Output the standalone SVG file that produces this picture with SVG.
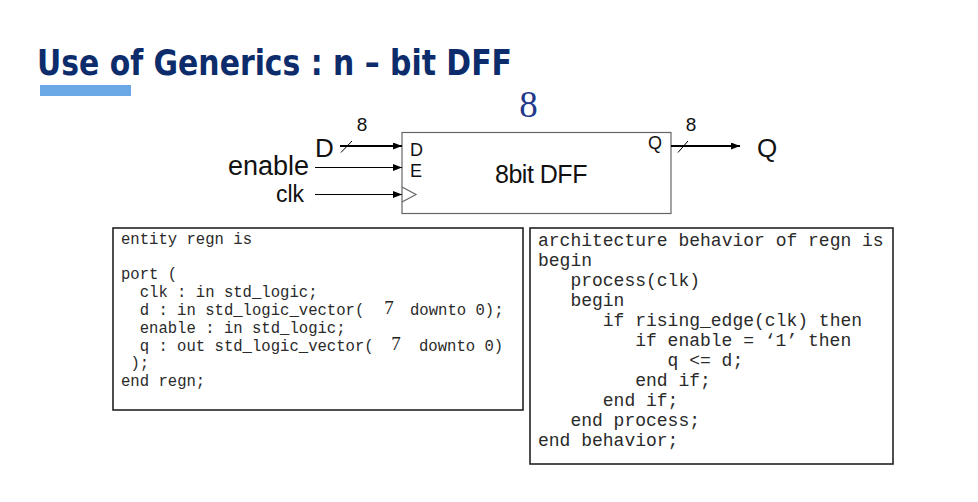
<svg xmlns="http://www.w3.org/2000/svg" width="978" height="502" viewBox="0 0 978 502">
<style>
.t{font-family:"Liberation Sans",Arial,sans-serif;fill:#111}
.m{font-family:"Liberation Mono","Courier New",monospace;fill:#2a2a2a}
.s{font-family:"Liberation Serif","Times New Roman",serif;fill:#222}
.box{fill:#fff;stroke:#222;stroke-width:1.6}
.w{stroke:#000;fill:none}
</style>
<defs>
<marker id="ah" markerUnits="userSpaceOnUse" markerWidth="9" markerHeight="7" refX="9" refY="3.5" orient="auto">
<path d="M0,0 L9,3.5 L0,7 z" fill="#000"/>
</marker>
</defs>
<rect width="978" height="502" fill="#fff"/>
<g id="title">
<text x="37" y="75" textLength="475" lengthAdjust="spacingAndGlyphs" style="font-family:'DejaVu Sans Condensed','DejaVu Sans',Verdana,sans-serif;font-weight:bold;font-size:36px;fill:#0c2c6b">Use of Generics : n – bit DFF</text>
<rect x="40" y="85" width="91" height="11" fill="#6aa9e6"/>
</g>
<g id="generic-label">
<text x="528.5" y="117" text-anchor="middle" style="font-family:'Liberation Serif','Times New Roman',serif;font-size:37px;fill:#1f3a8a">8</text>
</g>
<g id="dff">
<rect x="402" y="132.5" width="269" height="81" fill="#fff" stroke="#666" stroke-width="1.2"/>
<text class="t" x="541" y="183" text-anchor="middle" font-size="25" letter-spacing="-0.5">8bit DFF</text>
<text class="t" x="410" y="156" font-size="18">D</text>
<text class="t" x="410" y="176.5" font-size="18">E</text>
<text class="t" x="662" y="149" font-size="18" text-anchor="end">Q</text>
<path d="M402,187 L416,194.5 L402,202" fill="none" stroke="#666" stroke-width="1.2"/>
</g>
<g id="inputs">
<text class="t" x="315" y="157" font-size="26">D</text>
<text class="t" x="309" y="175" font-size="27" text-anchor="end">enable</text>
<text class="t" x="304" y="202" font-size="23" text-anchor="end">clk</text>
<text class="t" x="362" y="131" font-size="19" text-anchor="middle">8</text>
</g>
<g id="outputs">
<text class="t" x="757" y="157" font-size="26">Q</text>
<text class="t" x="691" y="131" font-size="19" text-anchor="middle">8</text>
</g>
<g id="connectors">
<line class="w" x1="340" y1="146" x2="402" y2="146" stroke-width="2.2" marker-end="url(#ah)"/>
<line class="w" x1="341" y1="152.5" x2="352" y2="141" stroke="#444" stroke-width="1"/>
<line class="w" x1="315" y1="167.5" x2="402" y2="167.5" stroke="#555" stroke-width="1.1" marker-end="url(#ah)"/>
<line class="w" x1="315" y1="194.5" x2="402" y2="194.5" stroke="#555" stroke-width="1.1" marker-end="url(#ah)"/>
<line class="w" x1="671" y1="146" x2="740" y2="146" stroke-width="2.2" marker-end="url(#ah)"/>
<line class="w" x1="678" y1="152.5" x2="688" y2="141" stroke="#444" stroke-width="1"/>
</g>
<g id="entity-code">
<rect class="box" x="113" y="228" width="410" height="182"/>
<g class="m" font-size="15.6">
<text x="121" y="244">entity regn is</text>
<text x="121" y="279">port (</text>
<text x="139.7" y="297">clk : in std_logic;</text>
<text x="139.7" y="315">d : in std_logic_vector(</text>
<text x="410" y="315">downto 0);</text>
<text x="139.7" y="333">enable : in std_logic;</text>
<text x="139.7" y="351">q : out std_logic_vector(</text>
<text x="419" y="351">downto 0)</text>
<text x="130.4" y="368">);</text>
<text x="121" y="386">end regn;</text>
</g>
<text class="s" x="389" y="314" font-size="19" text-anchor="middle">7</text>
<text class="s" x="396" y="350" font-size="19" text-anchor="middle">7</text>
</g>
<g id="architecture-code">
<rect class="box" x="530" y="228" width="363" height="236"/>
<g class="m" font-size="18">
<text x="538" y="246">architecture behavior of regn is</text>
<text x="538" y="266">begin</text>
<text x="570.4" y="286">process(clk)</text>
<text x="570.4" y="306">begin</text>
<text x="602.8" y="326">if rising_edge(clk) then</text>
<text x="635.2" y="346">if enable = ‘1’ then</text>
<text x="667.6" y="366">q &lt;= d;</text>
<text x="635.2" y="386">end if;</text>
<text x="602.8" y="406">end if;</text>
<text x="570.4" y="426">end process;</text>
<text x="538" y="446">end behavior;</text>
</g>
</g>
</svg>
